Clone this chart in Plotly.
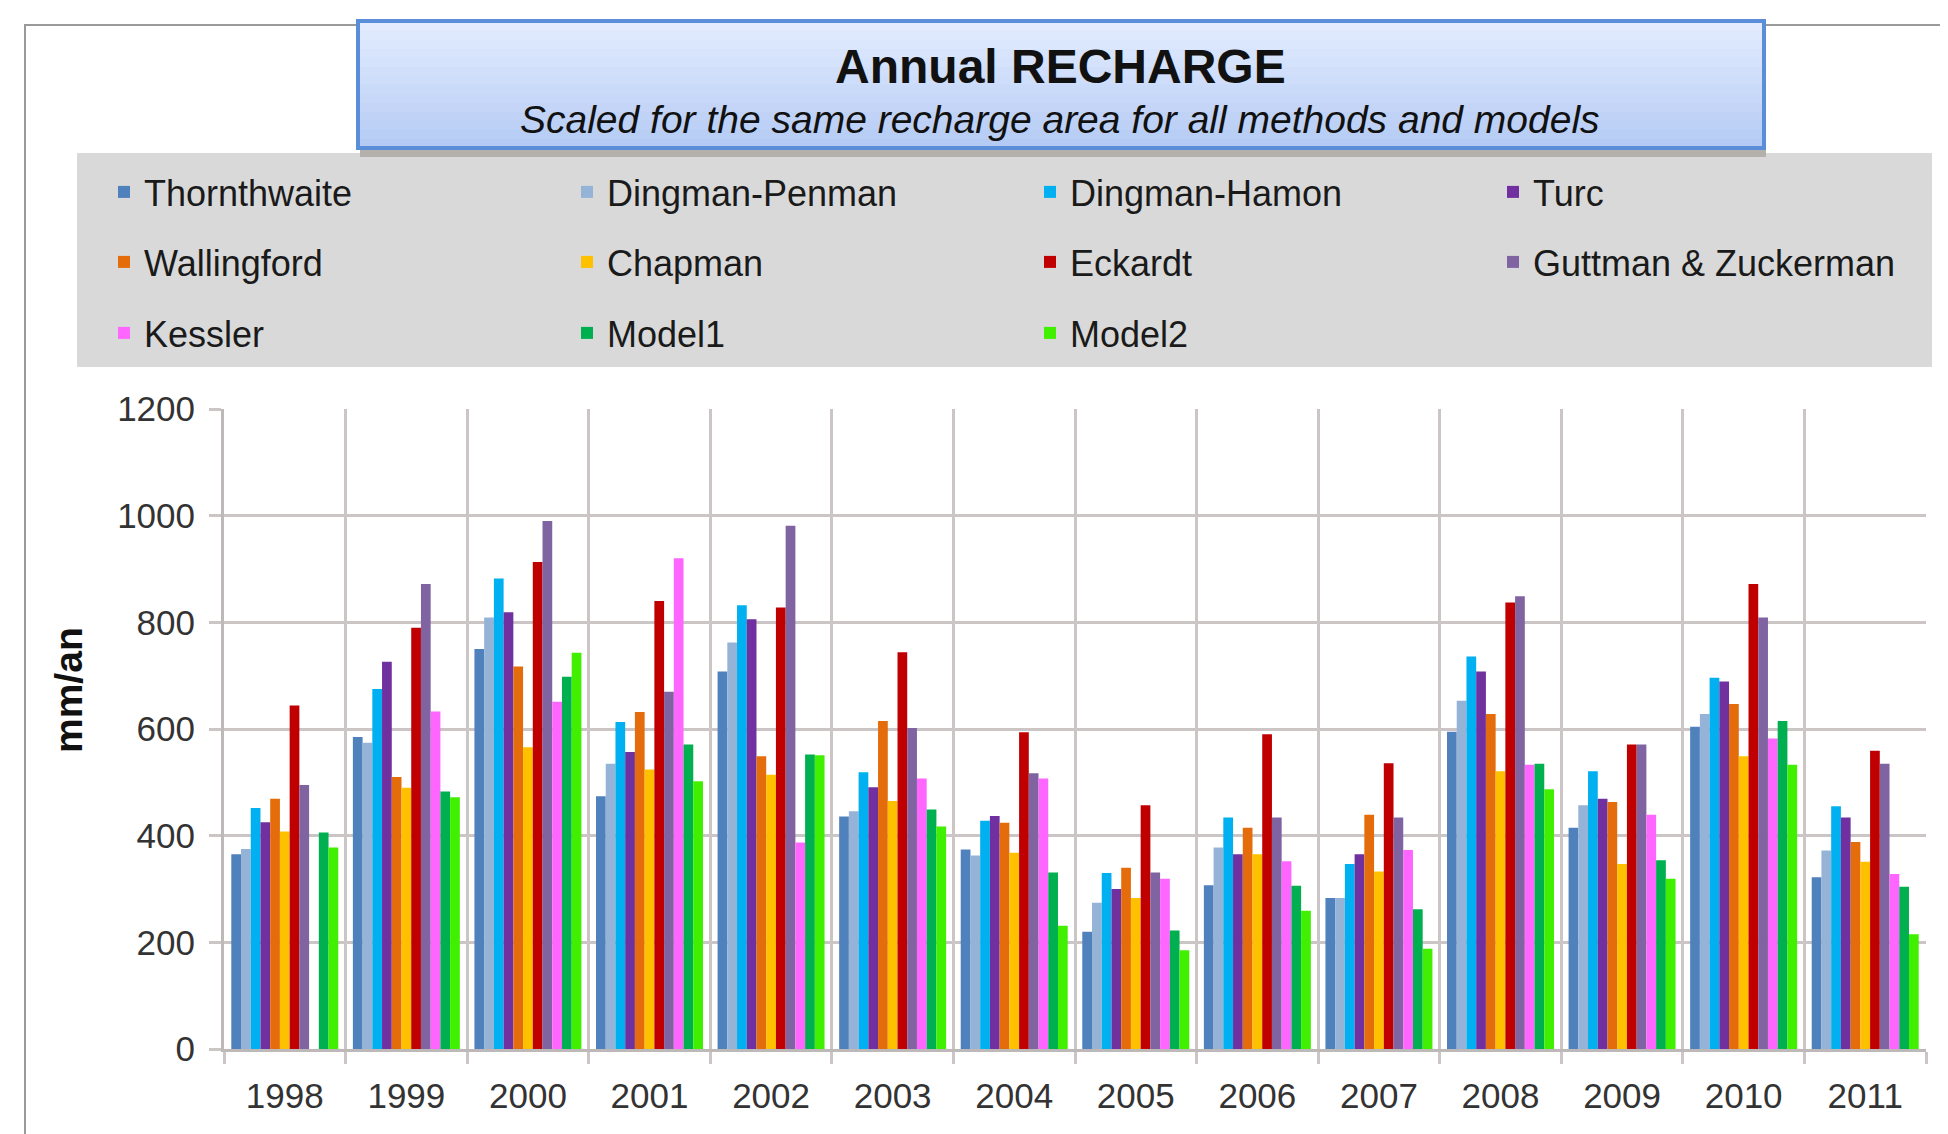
import plotly.graph_objects as go

# ---------------- data ----------------
years = ["1998", "1999", "2000", "2001", "2002", "2003", "2004",
         "2005", "2006", "2007", "2008", "2009", "2010", "2011"]

thornthwaite = [365, 585, 750, 474, 708, 436, 374, 220, 307, 283, 595, 415, 604, 322]
dingman_penman = [375, 574, 809, 535, 762, 446, 363, 274, 378, 283, 653, 457, 628, 372]
dingman_hamon = [452, 675, 882, 613, 832, 519, 428, 330, 434, 347, 736, 521, 696, 455]
turc = [425, 726, 819, 557, 806, 491, 437, 300, 365, 365, 708, 469, 689, 434]
wallingford = [469, 510, 717, 632, 549, 615, 424, 340, 415, 439, 628, 463, 647, 388]
chapman = [408, 490, 566, 524, 514, 465, 368, 283, 365, 333, 521, 347, 549, 351]
eckardt = [644, 790, 913, 840, 828, 744, 594, 457, 590, 536, 837, 571, 872, 559]
guttman_zuckerman = [495, 872, 990, 670, 981, 602, 517, 331, 434, 434, 849, 571, 809, 535]
kessler = [None, 633, 651, 920, 387, 507, 507, 319, 352, 373, 533, 439, 582, 328]
model1 = [406, 483, 698, 571, 552, 449, 331, 222, 306, 262, 535, 354, 615, 304]
model2 = [378, 472, 743, 502, 551, 417, 231, 185, 259, 188, 487, 319, 533, 215]

series_names = ["Thornthwaite", "Dingman-Penman", "Dingman-Hamon", "Turc",
                "Wallingford", "Chapman", "Eckardt", "Guttman & Zuckerman",
                "Kessler", "Model1", "Model2"]
series_values = [thornthwaite, dingman_penman, dingman_hamon, turc,
                 wallingford, chapman, eckardt, guttman_zuckerman,
                 kessler, model1, model2]
series_colors = ["#4F81BD", "#95B3D7", "#00B0F0", "#7030A0",
                 "#E46C0A", "#FFC000", "#C00000", "#8064A2",
                 "#FF66FF", "#00B050", "#40F000"]
series_legend = ["legend", "legend", "legend", "legend",
                 "legend2", "legend2", "legend2", "legend2",
                 "legend3", "legend3", "legend3"]

y_ticks = [0, 200, 400, 600, 800, 1000, 1200]

title_text = "Annual RECHARGE"
subtitle_text = "Scaled for the same recharge area for all methods and models"
y_title = "mm/an"

# ---------------- layout geometry (screen coords, page body margin = 8px) ----------------
W, H = 1948, 1134
OFF = 8
PLOT_X0, PLOT_X1 = 224, 1926
PLOT_Y0, PLOT_Y1 = 409, 1049
L = PLOT_X0 - OFF
T = PLOT_Y0 - OFF
R = W - (PLOT_X1 - OFF)
B = H - (PLOT_Y1 - OFF)
PW, PH = PLOT_X1 - PLOT_X0, PLOT_Y1 - PLOT_Y0


def px_x(x):
    return (x - PLOT_X0) / PW


def px_y(y):
    return (PLOT_Y1 - y) / PH


FONT = "Liberation Sans, Arial, sans-serif"
GRID = "#cbc5c5"

fig = go.Figure()
for name, vals, col, lg in zip(series_names, series_values, series_colors, series_legend):
    fig.add_trace(go.Bar(x=years, y=vals, name=name, marker_color=col,
                         marker_line_width=0, legend=lg))

legend_common = dict(orientation="h", xanchor="left", yanchor="middle",
                     entrywidth=418, entrywidthmode="pixels",
                     bgcolor="rgba(0,0,0,0)", traceorder="normal",
                     font=dict(family=FONT, size=36, color="#1a1a1a"))

shapes = [
    # outer frame
    dict(type="rect", xref="paper", yref="paper",
         x0=px_x(25), x1=px_x(1990), y0=px_y(1180), y1=px_y(25),
         line=dict(color="#9a9a9a", width=2), fillcolor="rgba(0,0,0,0)", layer="below"),
    # legend background
    dict(type="rect", xref="paper", yref="paper",
         x0=px_x(77), x1=px_x(1932), y0=px_y(367), y1=px_y(153),
         line=dict(width=0), fillcolor="#d9d9d9", layer="below"),
    # title shadow
    dict(type="rect", xref="paper", yref="paper",
         x0=px_x(360), x1=px_x(1766), y0=px_y(157), y1=px_y(140),
         line=dict(width=0), fillcolor="#b4b0ac", layer="below"),
]
# title box (vertical gradient strips)
top_c = (226, 236, 254)
bot_c = (182, 203, 244)
n_strips = 14
y_top, y_bot = 21, 148
for i in range(n_strips):
    f = i / (n_strips - 1)
    c = tuple(int(round(top_c[k] + (bot_c[k] - top_c[k]) * f)) for k in range(3))
    ya = y_top + (y_bot - y_top) * i / n_strips
    yb = y_top + (y_bot - y_top) * (i + 1) / n_strips
    shapes.append(dict(type="rect", xref="paper", yref="paper",
                       x0=px_x(358), x1=px_x(1764), y0=px_y(yb + 0.5), y1=px_y(ya),
                       line=dict(width=0), fillcolor="rgb(%d,%d,%d)" % c, layer="below"))
shapes.append(dict(type="rect", xref="paper", yref="paper",
                   x0=px_x(358), x1=px_x(1764), y0=px_y(y_bot), y1=px_y(y_top),
                   line=dict(color="#5a8ed8", width=4), fillcolor="rgba(0,0,0,0)",
                   layer="below"))

annotations = [
    dict(text="<b>%s</b>" % title_text, xref="paper", yref="paper",
         x=px_x(1060), y=px_y(66), xanchor="center", yanchor="middle",
         showarrow=False, font=dict(family=FONT, size=48, color="#111111")),
    dict(text="<i>%s</i>" % subtitle_text, xref="paper", yref="paper",
         x=px_x(1060), y=px_y(120), xanchor="center", yanchor="middle",
         showarrow=False, font=dict(family=FONT, size=39, color="#111111")),
    dict(text="<b>%s</b>" % y_title, xref="paper", yref="paper",
         x=px_x(68), y=px_y(690), xanchor="center", yanchor="middle",
         textangle=-90, showarrow=False, font=dict(family=FONT, size=39, color="#111111")),
]

fig.update_layout(
    width=W, height=H,
    margin=dict(l=L, r=R, t=T, b=B, autoexpand=False),
    paper_bgcolor="white", plot_bgcolor="white",
    barmode="group", bargap=0.12, bargroupgap=0.0,
    font=dict(family=FONT, color="#333333"),
    legend=dict(legend_common, x=px_x(104), y=px_y(192)),
    legend2=dict(legend_common, x=px_x(104), y=px_y(262)),
    legend3=dict(legend_common, x=px_x(104), y=px_y(333)),
    shapes=shapes, annotations=annotations,
    xaxis=dict(type="category", showgrid=True, gridcolor=GRID, gridwidth=3,
               tickson="boundaries", ticks="outside", ticklen=12, tickcolor=GRID,
               tickwidth=3, showline=True, linecolor="#bdb9b9", linewidth=3,
               tickfont=dict(family=FONT, size=35, color="#333333"),
               ticklabelstandoff=14),
    yaxis=dict(range=[0, 1200], tickvals=y_ticks, showgrid=True, gridcolor=GRID,
               gridwidth=3, ticks="outside", ticklen=12, tickcolor=GRID, tickwidth=3,
               showline=True, linecolor="#bdb9b9", linewidth=3, zeroline=False,
               tickfont=dict(family=FONT, size=35, color="#333333"),
               ticklabelstandoff=7),
)

fig.write_html("out.html")
